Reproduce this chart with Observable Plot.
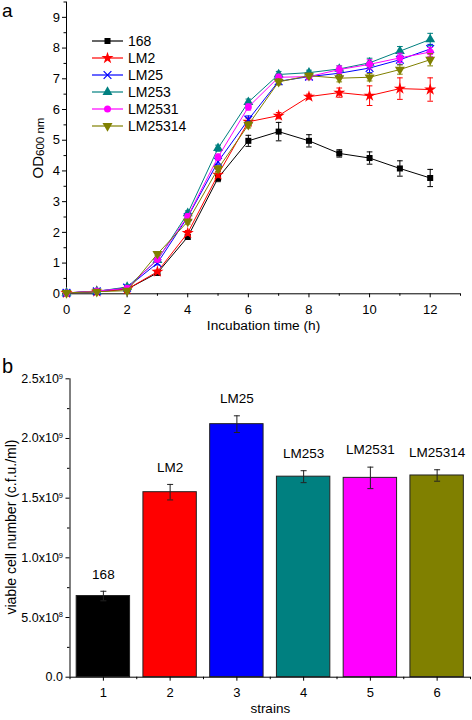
<!DOCTYPE html>
<html><head><meta charset="utf-8">
<script src="https://cdn.jsdelivr.net/npm/d3@7"></script>
<script src="https://cdn.jsdelivr.net/npm/@observablehq/plot@0.6"></script>
<style>
body{margin:0;background:#fff;}
#wrap{position:relative;width:472px;height:720px;font-family:"Liberation Sans",Arial,sans-serif;}
#wrap svg{display:block;}
</style></head><body><div id="wrap"></div>
<script>
// ---------- Panel a data ----------
const times = [0,1,2,3,4,5,6,7,8,9,10,11,12];
const seriesNames = ["168","LM2","LM25","LM253","LM2531","LM25314"];
const seriesColors = ["#000000","#ff0000","#0000ff","#008080","#ff00ff","#808000"];
const od168     = [0.03,0.07,0.15,0.68,1.85,3.77,4.98,5.28,4.98,4.57,4.42,4.08,3.77];
const odLM2     = [0.03,0.07,0.15,0.72,1.98,3.88,5.60,5.80,6.42,6.55,6.45,6.68,6.65];
const odLM25    = [0.03,0.08,0.20,1.00,2.50,4.30,5.67,6.92,7.07,7.18,7.35,7.62,7.97];
const odLM253   = [0.03,0.08,0.22,1.10,2.62,4.74,6.24,7.14,7.20,7.32,7.52,7.90,8.28];
const odLM2531  = [0.03,0.09,0.18,1.12,2.52,4.45,6.08,7.05,7.07,7.30,7.47,7.68,7.87];
const odLM25314 = [0.03,0.07,0.10,1.30,2.35,4.07,5.50,6.90,7.10,7.02,7.05,7.30,7.62];
const err168     = [0.02,0.02,0.03,0.05,0.07,0.12,0.18,0.30,0.20,0.12,0.20,0.25,0.28];
const errLM2     = [0.02,0.02,0.03,0.05,0.08,0.10,0.12,0.10,0.08,0.15,0.32,0.35,0.38];
const errLM25    = [0.02,0.02,0.03,0.06,0.08,0.10,0.12,0.10,0.08,0.10,0.15,0.15,0.15];
const errLM253   = [0.02,0.02,0.03,0.06,0.08,0.10,0.10,0.10,0.08,0.10,0.15,0.15,0.20];
const errLM2531  = [0.02,0.02,0.03,0.06,0.08,0.10,0.10,0.10,0.10,0.12,0.15,0.15,0.15];
const errLM25314 = [0.02,0.02,0.03,0.06,0.08,0.10,0.10,0.10,0.08,0.12,0.12,0.15,0.20];
const xMajorA = [0,2,4,6,8,10,12];
const xMinorA = [1,3,5,7,9,11,13];
const yMajorA = [0,1,2,3,4,5,6,7,8,9];
const yMinorA = [0.5,1.5,2.5,3.5,4.5,5.5,6.5,7.5,8.5,9.5];

// ---------- Panel b data ----------
const strains = ["168","LM2","LM25","LM253","LM2531","LM25314"];
const strainPos = [1,2,3,4,5,6];
const cfu    = [0.68e9,1.55e9,2.12e9,1.68e9,1.67e9,1.69e9];
const cfuErr = [0.04e9,0.065e9,0.07e9,0.05e9,0.09e9,0.048e9];
const barColors = ["#000000","#ff0000","#0000ff","#008080","#ff00ff","#808000"];
const yMajorB = [0,0.5e9,1.0e9,1.5e9,2.0e9,2.5e9];
const yTickLabelsB = ["0.0","5.0x10^8","1.0x10^9","1.5x10^9","2.0x10^9","2.5x10^9"];
const yMinorB = [0.25e9,0.75e9,1.25e9,1.75e9,2.25e9];
const xMinorB = [0.5,1.5,2.5,3.5,4.5,5.5,6.5];

// ---------- symbols ----------
const symbolDownTriangle = {draw(context, size){
  const s3 = Math.sqrt(3); const y = -Math.sqrt(size/(s3*3));
  context.moveTo(0,-y*2); context.lineTo(-s3*y,y); context.lineTo(s3*y,y); context.closePath();
}};
const capSymbol = {draw(context, size){
  const w = Math.sqrt(size)/2; context.moveTo(-w,0); context.lineTo(w,0);
}};
const seriesSymbols = [d3.symbolSquare, d3.symbolStar, d3.symbolTimes, d3.symbolTriangle, d3.symbolCircle, symbolDownTriangle];
const symbolR = [3.4, 3.8, 3.6, 3.7, 3.5, 3.7];
const strokeSymbol = [false,false,true,false,false,false];

const odValues = [od168,odLM2,odLM25,odLM253,odLM2531,odLM25314];
const odErrors = [err168,errLM2,errLM25,errLM253,errLM2531,errLM25314];

const FONT = "'Liberation Sans', Arial, sans-serif";
const wrap = document.getElementById("wrap");

// ---------- Panel a ----------
const seriesMarks = [];
seriesNames.forEach((s, i) => {
  const rows = times.map((t, j) => ({s, t, v: odValues[i][j], e: odErrors[i][j]}));
  const col = seriesColors[i];
  seriesMarks.push(
    Plot.ruleX(rows, {x: "t", y1: d => d.v - d.e, y2: d => d.v + d.e, stroke: col, strokeWidth: 1}),
    Plot.dot(rows, {x: "t", y: d => d.v + d.e, symbol: capSymbol, r: 3.2, fill: "none", stroke: col, strokeWidth: 1}),
    Plot.dot(rows, {x: "t", y: d => d.v - d.e, symbol: capSymbol, r: 3.2, fill: "none", stroke: col, strokeWidth: 1}),
    Plot.line(rows, {x: "t", y: "v", stroke: col, strokeWidth: 1}),
    Plot.dot(rows, {x: "t", y: "v", symbol: seriesSymbols[i], r: symbolR[i],
      fill: strokeSymbol[i] ? "none" : col, stroke: strokeSymbol[i] ? col : "none", strokeWidth: 1.2})
  );
});

const svgA = Plot.plot({
  width: 472, height: 340,
  marginLeft: 66, marginRight: 12, marginTop: 1.5, marginBottom: 46.7,
  style: {fontFamily: FONT, fontSize: "13px", background: "white", overflow: "visible", color: "black"},
  x: {domain: [0, 13], label: null},
  y: {domain: [0, 9.5], label: null},
  marks: [
    Plot.axisX({ticks: xMajorA, tickSize: 4, tickPadding: 7, fontSize: 13, label: null, tickFormat: d => String(d)}),
    Plot.axisX({ticks: xMinorA, tickSize: 2.5, tickPadding: 0, label: null, tickFormat: () => ""}),
    Plot.axisY({ticks: yMajorA, tickSize: 4, tickPadding: 2.5, fontSize: 13, label: null, tickFormat: d => String(d)}),
    Plot.axisY({ticks: yMinorA, tickSize: 2.5, tickPadding: 0, label: null, tickFormat: () => ""}),
    Plot.ruleX([0], {stroke: "black", strokeWidth: 1}),
    Plot.ruleY([0], {stroke: "black", strokeWidth: 1}),
    Plot.text(["Incubation time (h)"], {text: d => d, frameAnchor: "bottom", dy: 36, fontSize: 13.7}),
    ...seriesMarks
  ]
});
wrap.appendChild(svgA);

(function(){
  const s = d3.select(svgA);
  s.append("text").attr("x", 2).attr("y", 17).attr("text-anchor", "start").attr("font-size", 19).attr("font-family", FONT).text("a");
  const yt = s.append("text").attr("transform", "translate(43,148) rotate(-90)")
    .attr("text-anchor", "middle").attr("font-family", FONT).attr("fill", "black");
  yt.append("tspan").attr("font-size", 15).text("OD");
  yt.append("tspan").attr("font-size", 11.5).attr("dy", 1).text("600 nm");
  const leg = s.append("g").attr("font-family", FONT).attr("font-size", 14).attr("text-anchor", "start");
  seriesNames.forEach((name, i) => {
    const g = leg.append("g").attr("transform", `translate(92,${41 + 17 * i})`);
    const col = seriesColors[i];
    g.append("line").attr("x1", 0).attr("x2", 31).attr("y1", 0).attr("y2", 0).attr("stroke", col).attr("stroke-width", 1.2);
    g.append("path").attr("transform", "translate(15.5,0)")
      .attr("d", d3.symbol(seriesSymbols[i], Math.PI * symbolR[i] * symbolR[i])())
      .attr("fill", strokeSymbol[i] ? "none" : col).attr("stroke", strokeSymbol[i] ? col : "none").attr("stroke-width", 1.2);
    g.append("text").attr("x", 36).attr("dy", "0.36em").attr("text-anchor", "start").attr("fill", "black").text(name);
  });
})();

// ---------- Panel b ----------
const barRows = strains.map((s, i) => ({s, pos: strainPos[i], v: cfu[i], e: cfuErr[i], c: barColors[i]}));

const svgB = Plot.plot({
  width: 472, height: 380,
  marginLeft: 69.5, marginRight: 2, marginTop: 38.3, marginBottom: 43.3,
  style: {fontFamily: FONT, fontSize: "12.5px", background: "white", overflow: "visible", color: "black"},
  x: {domain: [0.5, 6.5], label: null},
  y: {domain: [0, 2.5e9], label: null},
  color: {type: "identity"},
  marks: [
    Plot.rectY(barRows, {x1: d => d.pos - 0.4, x2: d => d.pos + 0.4, y1: 0, y2: "v", fill: "c", stroke: "#222", strokeWidth: 1}),
    Plot.ruleX(barRows, {x: "pos", y1: d => d.v - d.e, y2: d => d.v + d.e, stroke: "#222", strokeWidth: 1}),
    Plot.dot(barRows, {x: "pos", y: d => d.v + d.e, symbol: capSymbol, r: 3.4, fill: "none", stroke: "#222", strokeWidth: 1}),
    Plot.dot(barRows, {x: "pos", y: d => d.v - d.e, symbol: capSymbol, r: 3.4, fill: "none", stroke: "#222", strokeWidth: 1}),
    Plot.text(barRows, {x: "pos", y: d => d.v + d.e, text: "s", dy: -17, fontSize: 13.5, fontFamily: "'Liberation Sans Narrow', 'Liberation Sans', Arial, sans-serif"}),
    Plot.axisX({ticks: strainPos, tickSize: 4, tickPadding: 6.5, fontSize: 13, label: null, tickFormat: d => String(d)}),
    Plot.axisX({ticks: xMinorB, tickSize: 2.5, tickPadding: 0, label: null, tickFormat: () => ""}),
    Plot.axisY({ticks: yMajorB, tickSize: 4, tickPadding: 3, fontSize: 12.5, label: null,
      tickFormat: d => yTickLabelsB[yMajorB.indexOf(d)]}),
    Plot.axisY({ticks: yMinorB, tickSize: 2.5, tickPadding: 0, label: null, tickFormat: () => ""}),
    Plot.ruleX([0.5], {stroke: "black", strokeWidth: 1}),
    Plot.ruleY([0], {stroke: "black", strokeWidth: 1}),
    Plot.text(["strains"], {text: d => d, frameAnchor: "bottom", dy: 36, fontSize: 13.5})
  ]
});
wrap.appendChild(svgB);

(function(){
  const s = d3.select(svgB);
  s.selectAll('g[aria-label="y-axis tick label"] text').each(function(){
    const t = this.textContent;
    if (t.includes("^")) {
      const [m, ex] = t.split("^");
      const sel = d3.select(this);
      sel.text(null);
      sel.append("tspan").text(m);
      sel.append("tspan").attr("dy", "-0.55em").attr("font-size", "7.5px").text(ex);
    }
  });
  s.append("text").attr("x", 2).attr("y", 33).attr("text-anchor", "start").attr("font-size", 20).attr("font-family", FONT).text("b");
  s.append("text").attr("transform", "translate(16,187) rotate(-90)").attr("text-anchor", "middle")
    .attr("font-family", FONT).attr("font-size", 14).attr("fill", "black").text("viable cell number (c.f.u./ml)");
})();
</script>
</body></html>
